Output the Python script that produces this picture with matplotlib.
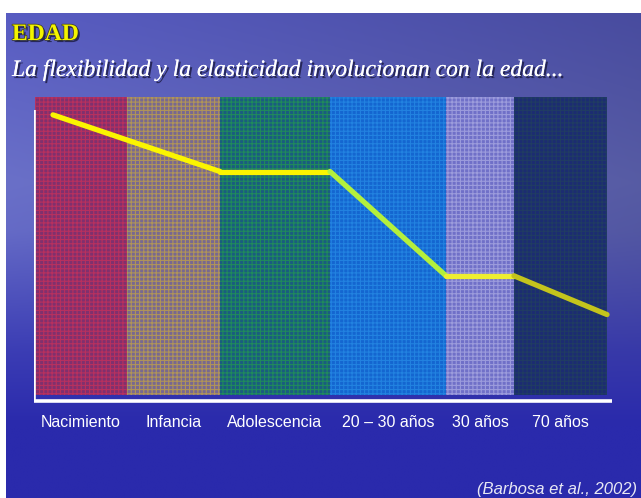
import numpy as np
import matplotlib
matplotlib.use("Agg")
import matplotlib.pyplot as plt
import matplotlib.patheffects as pe
from matplotlib.colors import to_rgb

# ----------------------------------------------------------------------
# data
# ----------------------------------------------------------------------
etapas = ["Nacimiento", "Infancia", "Adolescencia", "20 – 30 años", "30 años", "70 años"]
limites = [0, 92, 185, 295, 411, 479, 572]          # band edges along the age axis
flex_x = [18, 185, 295, 411, 479, 572]              # flexibility curve, x
flex_y = [94, 75, 75, 40, 40, 27]                   # flexibility curve, y (0-100)

# styles
band_face = ["#80306e", "#786890", "#1a5c80", "#1466d0", "#7070c8", "#1c2c72"]
band_hatch = ["#b8305e", "#b09458", "#208a5c", "#2282e0", "#9c9cdc", "#203c62"]
seg_colors = ["#fbf500", "#fbf500", "#b4f03c", "#eeee30", "#c4c41c"]

W, H = 641, 498
fig = plt.figure(figsize=(W / 100, H / 100), dpi=100)
fig.patch.set_facecolor("white")

# ---- background (sky over sea) ---------------------------------------
bg = fig.add_axes([6 / W, 0, 1 - 6 / W, (H - 13) / H])
bg.set_axis_off()
ny, nx = 200, 200
yy = np.linspace(0, 1, ny)[:, None]   # 0 = top
xx = np.linspace(0, 1, nx)[None, :]
top = np.array(to_rgb("#585cc2"))
mid = np.array(to_rgb("#6a70c8"))
bot = np.array(to_rgb("#2a2aac"))
w_mid = np.clip(1 - np.abs(yy - 0.35) / 0.35, 0, 1)
w_bot = np.clip((yy - 0.45) / 0.4, 0, 1)
img = (top * (1 - w_mid - w_bot)[..., None] * np.ones((1, nx, 1))
       + mid * w_mid[..., None] + bot * w_bot[..., None])
# a little darker towards the right, fading out over the sea
img = img * (1 - 0.18 * (xx * (1 - w_bot))[..., None])
img = np.clip(img, 0, 1)
bg.imshow(img, aspect="auto", extent=[0, 1, 0, 1], interpolation="bilinear")
bg.set_xlim(0, 1); bg.set_ylim(0, 1)

# ---- chart -----------------------------------------------------------
ax = fig.add_axes([34 / W, (H - 401) / H, (612 - 34) / W, (401 - 97) / H])
ax.set_xlim(-1, 577)
ax.set_ylim(-2, 100)
ax.patch.set_alpha(0)
for s in ax.spines.values():
    s.set_visible(False)
ax.set_xticks([]); ax.set_yticks([])

plt.rcParams["hatch.linewidth"] = 0.8
for i in range(len(etapas)):
    ax.axvspan(limites[i], limites[i + 1], ymin=2 / 102, ymax=1,
               facecolor=band_face[i], edgecolor=band_hatch[i],
               hatch="++++", linewidth=0, zorder=1)
    ax.text((limites[i] + limites[i + 1]) / 2, -0.072, etapas[i],
            transform=ax.get_xaxis_transform(), ha="center", va="center",
            color="white", fontsize=11.5, family="Liberation Sans")

# white axes
ax.plot([-1, -1], [-2, 95.6], color="white", lw=2.6, solid_capstyle="butt", zorder=3)
ax.plot([-1, 577], [-2, -2], color="white", lw=2.6, solid_capstyle="butt", zorder=3,
        clip_on=False)

# flexibility curve, coloured by the band behind each stretch
for i in range(len(flex_x) - 1):
    ax.plot(flex_x[i:i + 2], flex_y[i:i + 2], color=seg_colors[i], lw=3.8,
            solid_capstyle="round", zorder=4)

# ---- slide text ------------------------------------------------------
fig.text(12 / W, (H - 40) / H, "EDAD", color="#f4f400", fontsize=17,
         family="Liberation Serif", weight="bold", va="baseline",
         path_effects=[pe.withSimplePatchShadow(offset=(1.5, -1.5), shadow_rgbFace="#1a1a40", alpha=0.8),
                       pe.Stroke(linewidth=1.0, foreground="#3a3a20"), pe.Normal()])
fig.text(12 / W, (H - 76) / H,
         "La flexibilidad y la elasticidad involucionan con la edad...",
         color="white", fontsize=17, family="Liberation Serif", style="italic",
         va="baseline",
         path_effects=[pe.withSimplePatchShadow(offset=(1.5, -1.5), shadow_rgbFace="#1a1a40", alpha=0.8),
                       pe.Normal()])
fig.text(637 / W, (H - 489) / H, "(Barbosa et al., 2002)", color="#e8e8f4",
         fontsize=12, family="Liberation Sans", style="italic",
         ha="right", va="center")

fig.savefig("out.png", dpi=100)
